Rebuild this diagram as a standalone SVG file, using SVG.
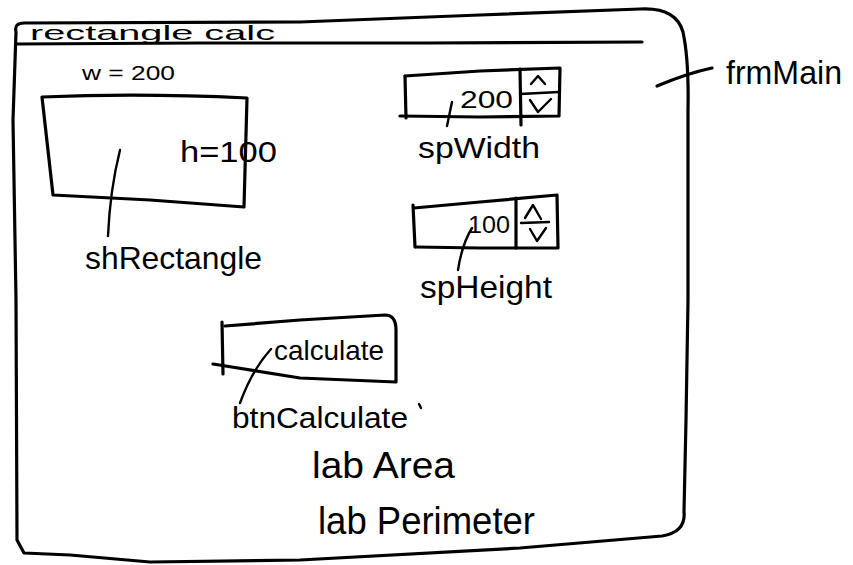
<svg xmlns="http://www.w3.org/2000/svg" width="853" height="565" viewBox="0 0 853 565">
  <style>
    .ink { fill: none; stroke: #000; stroke-width: 3.2; stroke-linecap: round; stroke-linejoin: round; }
    .thin { fill: none; stroke: #000; stroke-width: 2.4; stroke-linecap: round; stroke-linejoin: round; }
    .lbl { font-family: "Liberation Sans", "DejaVu Sans", sans-serif; fill: #000; }
  </style>
  <rect width="853" height="565" fill="#fff"/>

  <!-- main window frame -->
  <g id="frmMain">
    <path class="ink" d="M 16,32 Q 14,23 24,23 L 300,22 L 480,15 L 640,9 Q 676,7 683,32 Q 689,60 688,110 L 688,300 L 686,420 L 684,512 Q 686,532 662,536 L 520,548 L 300,560 L 150,562 L 70,555 L 24,553 L 17,540 L 16,300 L 13,120 Z"/>
    <path class="ink" d="M 16,44 L 200,43 L 430,43 L 642,42"/>
    <text class="lbl" x="30" y="40" font-size="21" textLength="245" lengthAdjust="spacingAndGlyphs">rectangle calc</text>
    <text class="lbl" x="726" y="84" font-size="34" textLength="116" lengthAdjust="spacingAndGlyphs">frmMain</text>
  </g>

  <!-- shape preview -->
  <g id="shRectangle">
    <path class="ink" d="M 42,97 Q 140,93 247,98 L 244,207 L 150,200 L 53,195 Z"/>
    <text class="lbl" x="82" y="80" font-size="20" textLength="93" lengthAdjust="spacingAndGlyphs">w = 200</text>
    <text class="lbl" x="180" y="162" font-size="30" textLength="97" lengthAdjust="spacingAndGlyphs">h=100</text>
    <text class="lbl" x="85" y="269" font-size="32" textLength="177" lengthAdjust="spacingAndGlyphs">shRectangle</text>
  </g>

  <!-- width spinner -->
  <g id="spWidth">
    <path class="ink" d="M 405,76 L 480,71 L 560,68 L 559,116 L 480,117 L 400,116"/>
    <path class="ink" d="M 405,76 L 406,118"/>
    <path class="ink" d="M 520,69 L 521,125"/>
    <path class="thin" d="M 520,94 L 559,92"/>
    <path class="thin" d="M 531,84 L 538,76 L 545,84"/>
    <path class="thin" d="M 530,100 L 538,112 L 551,99"/>
    <text class="lbl" x="460" y="108" font-size="24" textLength="53" lengthAdjust="spacingAndGlyphs">200</text>
    <text class="lbl" x="418" y="158" font-size="30" textLength="122" lengthAdjust="spacingAndGlyphs">spWidth</text>
  </g>

  <!-- height spinner -->
  <g id="spHeight">
    <path class="ink" d="M 414,208 L 480,202 L 557,195 L 558,248 L 480,248 L 416,247"/>
    <path class="ink" d="M 413,205 L 415,247"/>
    <path class="ink" d="M 516,198 L 516,248"/>
    <path class="thin" d="M 525,218 L 533,205 L 541,219"/>
    <path class="thin" d="M 521,223 L 549,222"/>
    <path class="thin" d="M 530,229 L 537,241 L 546,228"/>
    <text class="lbl" x="468" y="233" font-size="24" textLength="42" lengthAdjust="spacingAndGlyphs">100</text>
    <text class="lbl" x="420" y="298" font-size="32" textLength="132" lengthAdjust="spacingAndGlyphs">spHeight</text>
  </g>

  <!-- calculate button -->
  <g id="btnCalculate">
    <path class="ink" d="M 225,326 L 300,320 L 385,315 Q 396,315 396,330 L 396,382 L 300,378 L 213,364"/>
    <path class="ink" d="M 222,322 L 223,374"/>
    <text class="lbl" x="274" y="360" font-size="28" textLength="110" lengthAdjust="spacingAndGlyphs">calculate</text>
    <text class="lbl" x="232" y="428" font-size="30" textLength="176" lengthAdjust="spacingAndGlyphs">btnCalculate</text>
    <path class="thin" d="M 419,404 L 421,408"/>
  </g>

  <!-- result labels -->
  <g id="labArea">
    <text class="lbl" x="312" y="478" font-size="36" textLength="143" lengthAdjust="spacingAndGlyphs">lab Area</text>
  </g>
  <g id="labPerimeter">
    <text class="lbl" x="318" y="534" font-size="38" textLength="217" lengthAdjust="spacingAndGlyphs">lab Perimeter</text>
  </g>

  <!-- leader lines from names to their controls -->
  <g id="connectors">
    <path class="ink" d="M 657,86 Q 688,73 712,68"/>
    <path class="thin" d="M 452,102 L 447,126"/>
    <path class="thin" d="M 472,228 Q 462,244 458,270"/>
    <path class="thin" d="M 120,150 Q 110,190 108,236"/>
    <path class="thin" d="M 271,349 Q 252,370 240,403"/>
  </g>
</svg>
